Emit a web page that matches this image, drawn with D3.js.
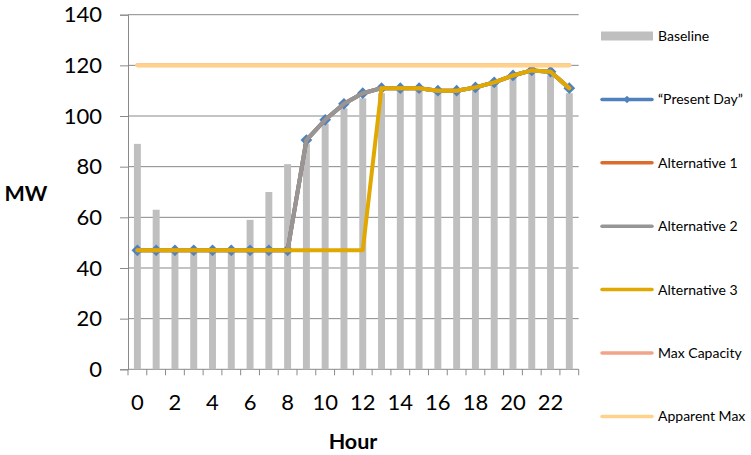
<!DOCTYPE html>
<html>
<head>
<meta charset="utf-8">
<script src="https://cdn.jsdelivr.net/npm/d3@7"></script>
<style>
  html, body { margin: 0; padding: 0; background: #fff; }
  svg { display: block; font-family: Lato, "Open Sans", sans-serif; }
</style>
</head>
<body>
<svg id="chart" width="751" height="455"></svg>
<script>
const hours = d3.range(0, 24);
const hourTickLabels = ["0","2","4","6","8","10","12","14","16","18","20","22"];
const yTicks = [0, 20, 40, 60, 80, 100, 120, 140];

const baseline    = [89, 63, 46, 46, 46, 46, 59, 70, 81, 89, 97, 103, 107, 109, 110, 110, 109, 109, 110, 112, 115, 117, 116, 109];
const presentDay  = [47, 47, 47, 47, 47, 47, 47, 47, 47, 90.5, 98.5, 104.8, 109, 111, 111, 111, 110, 110, 111.3, 113.3, 116, 118, 117.5, 111];
const alternative1 = [47, 47, 47, 47, 47, 47, 47, 47, 47, 90.5, 98.5, 104.8, 109, 111, 111, 111, 110, 110, 111.3, 113.3, 116, 118, 117.5, 111];
const alternative2 = [47, 47, 47, 47, 47, 47, 47, 47, 47, 90.5, 98.5, 104.8, 109, 111, 111, 111, 110, 110, 111.3, 113.3, 116, 118, 117.5, 111];
const alternative3 = [47, 47, 47, 47, 47, 47, 47, 47, 47, 47, 47, 47, 47, 111, 111, 111, 110, 110, 111.3, 113.3, 116, 118, 117.5, 111];
const maxCapacity  = [120, 120, 120, 120, 120, 120, 120, 120, 120, 120, 120, 120, 120, 120, 120, 120, 120, 120, 120, 120, 120, 120, 120, 120];
const apparentMax  = [120, 120, 120, 120, 120, 120, 120, 120, 120, 120, 120, 120, 120, 120, 120, 120, 120, 120, 120, 120, 120, 120, 120, 120];

const seriesNames  = ["Baseline", "\u201CPresent Day\u201D", "Alternative 1", "Alternative 2", "Alternative 3", "Max Capacity", "Apparent Max"];
const seriesColors = ["#BFBFBF", "#4F81BD", "#DD6B2C", "#969696", "#E0A800", "#F2A488", "#FFD28A"];

const lineSeries = [
  { name: seriesNames[1], values: presentDay,   color: seriesColors[1], marker: true },
  { name: seriesNames[2], values: alternative1, color: seriesColors[2], marker: false },
  { name: seriesNames[3], values: alternative2, color: seriesColors[3], marker: false },
  { name: seriesNames[4], values: alternative3, color: seriesColors[4], marker: false },
  { name: seriesNames[5], values: maxCapacity,  color: seriesColors[5], marker: false },
  { name: seriesNames[6], values: apparentMax,  color: seriesColors[6], marker: false }
];

const svg = d3.select("#chart");
const plotLeft = 128, plotRight = 578.7, plotTop = 14.7, plotBottom = 369.3;

const x = d3.scaleBand().domain(hours).range([plotLeft, plotRight]).padding(0);
const y = d3.scaleLinear().domain([0, 140]).range([plotBottom, plotTop]);
const barW = x.bandwidth() * 0.37;
const cx = h => x(h) + x.bandwidth() / 2;

// gridlines
svg.append("g").selectAll("line").data(yTicks.filter(v => v > 0)).join("line")
  .attr("x1", plotLeft).attr("x2", plotRight)
  .attr("y1", d => y(d)).attr("y2", d => y(d))
  .attr("stroke", "#898989").attr("stroke-width", 1);

// y axis
const yAxis = d3.axisLeft(y).tickValues(yTicks).tickSize(8).tickPadding(18).tickFormat(d3.format("d"));
const gy = svg.append("g").attr("transform", `translate(${plotLeft},0)`).call(yAxis);
gy.select(".domain").attr("stroke", "#898989");
gy.selectAll(".tick line").attr("stroke", "#898989");
gy.selectAll(".tick text").attr("font-size", 22).attr("fill", "#000").attr("font-family", "Lato");

// x axis with ticks at category boundaries
svg.append("line").attr("x1", plotLeft).attr("x2", plotRight).attr("y1", plotBottom).attr("y2", plotBottom)
  .attr("stroke", "#898989");
svg.append("g").selectAll("line").data(d3.range(0, 25)).join("line")
  .attr("x1", d => plotLeft + d * x.step()).attr("x2", d => plotLeft + d * x.step())
  .attr("y1", plotBottom).attr("y2", plotBottom + 6)
  .attr("stroke", "#898989");
svg.append("g").selectAll("text").data(hourTickLabels).join("text")
  .attr("x", d => cx(+d)).attr("y", 410)
  .attr("text-anchor", "middle").attr("font-size", 22).attr("fill", "#000")
  .text(d => d);

// bars
svg.append("g").selectAll("rect").data(baseline).join("rect")
  .attr("x", (d, i) => cx(hours[i]) - barW / 2)
  .attr("width", barW)
  .attr("y", d => y(d))
  .attr("height", d => y(0) - y(d))
  .attr("fill", seriesColors[0]);

// lines
const line = d3.line().x((d, i) => cx(hours[i])).y(d => y(d));
const diamond = d3.symbol().type(d3.symbolDiamond2).size(88);
lineSeries.forEach(s => {
  const g = svg.append("g");
  g.append("path").attr("d", line(s.values))
    .attr("fill", "none").attr("stroke", s.color).attr("stroke-width", 4)
    .attr("stroke-linejoin", "round").attr("stroke-linecap", "round");
  if (s.marker) {
    g.selectAll("path.m").data(s.values).join("path").attr("class", "m")
      .attr("d", diamond)
      .attr("transform", (d, i) => `translate(${cx(hours[i])},${y(d)})`)
      .attr("fill", s.color);
  }
});

// axis titles
svg.append("text").attr("x", 26).attr("y", 201).attr("text-anchor", "middle")
  .attr("font-size", 21.5).attr("font-weight", "bold").attr("fill", "#000").text("MW");
svg.append("text").attr("x", 353).attr("y", 449).attr("text-anchor", "middle")
  .attr("font-size", 21.5).attr("font-weight", "bold").attr("fill", "#000").text("Hour");

// legend
const legend = svg.append("g");
seriesNames.forEach((name, i) => {
  const ly = 36 + i * 63.4;
  if (i === 0) {
    legend.append("rect").attr("x", 601).attr("y", ly - 4.5).attr("width", 52).attr("height", 9)
      .attr("fill", seriesColors[0]);
  } else {
    legend.append("line").attr("x1", 602).attr("x2", 652).attr("y1", ly).attr("y2", ly)
      .attr("stroke", seriesColors[i]).attr("stroke-width", 3.5).attr("stroke-linecap", "round");
    if (i === 1) {
      legend.append("path").attr("d", d3.symbol().type(d3.symbolDiamond2).size(36))
        .attr("transform", `translate(627,${ly})`).attr("fill", seriesColors[1]);
    }
  }
  legend.append("text").attr("x", 658).attr("y", ly + 5).attr("font-size", 14)
    .attr("fill", "#000").text(name);
});
</script>
</body>
</html>
